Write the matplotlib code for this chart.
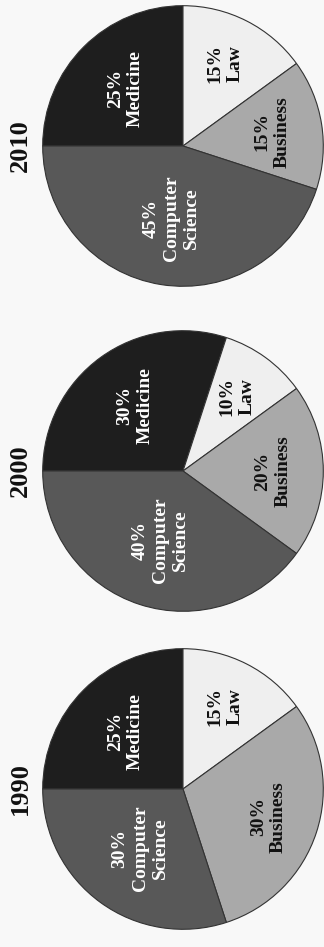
import numpy as np
import matplotlib
matplotlib.use('Agg')
import matplotlib.pyplot as plt

years = ['2010', '2000', '1990']
fields = ['Medicine', 'Law', 'Business', 'Computer\nScience']
shares_2010 = [25, 15, 15, 45]
shares_2000 = [30, 10, 20, 40]
shares_1990 = [25, 15, 30, 30]
all_shares = [shares_2010, shares_2000, shares_1990]

colors = ['#1e1e1e', '#efefef', '#a9a9a9', '#585858']
text_colors = ['white', '#111111', '#111111', 'white']
label_dist = [0.58, 0.66, 0.64, 0.52]

W, H = 324, 947
centers = [(183, 146), (183, 471), (183, 789)]
r = 141

plt.rcParams['font.family'] = ['Liberation Serif', 'DejaVu Serif']
fig = plt.figure(figsize=(W / 100, H / 100), dpi=100)
fig.patch.set_facecolor('#f8f8f8')

for year, shares, (cx, cy) in zip(years, all_shares, centers):
    ax = fig.add_axes([(cx - r) / W, 1 - (cy + r) / H, 2 * r / W, 2 * r / H])
    wedges, _ = ax.pie(shares, colors=colors, startangle=180, counterclock=False,
                       radius=1, wedgeprops=dict(edgecolor='#333333', linewidth=0.8))
    for w, s, name, tc, d in zip(wedges, shares, fields, text_colors, label_dist):
        ang = np.deg2rad((w.theta1 + w.theta2) / 2)
        ax.text(d * np.cos(ang), d * np.sin(ang), '%d%%\n%s' % (s, name),
                rotation=90, ha='center', va='center', multialignment='center',
                fontsize=14, fontweight='bold', color=tc, linespacing=1.25)
    ax.set_xlim(-1.005, 1.005)
    ax.set_ylim(-1.005, 1.005)
    ax.axis('off')
    fig.text(20 / W, 1 - cy / H, year, rotation=90, ha='center', va='center',
             fontsize=19, fontweight='bold', color='#111111')

fig.savefig('out.png', dpi=100, facecolor=fig.get_facecolor())
